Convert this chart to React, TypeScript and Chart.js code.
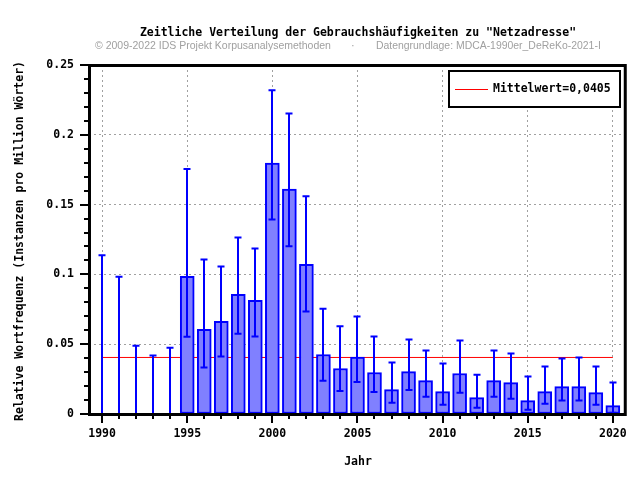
import React, { useEffect, useRef } from "react";
import { Chart, registerables } from "chart.js";

Chart.register(...registerables);

const years = [
  1990, 1991, 1992, 1993, 1994, 1995, 1996, 1997, 1998, 1999, 2000,
  2001, 2002, 2003, 2004, 2005, 2006, 2007, 2008, 2009, 2010,
  2011, 2012, 2013, 2014, 2015, 2016, 2017, 2018, 2019, 2020,
];
const freq = [
  0, 0, 0, 0, 0, 0.0987, 0.0606, 0.0663, 0.0857, 0.0814, 0.1798,
  0.1611, 0.1073, 0.0426, 0.0326, 0.0407, 0.0297, 0.0175, 0.0304, 0.0239, 0.016,
  0.029, 0.0117, 0.0239, 0.0225, 0.0096, 0.016, 0.0196, 0.0196, 0.0153, 0.006,
];
const upper = [
  0.1137, 0.0984, 0.0489, 0.0419, 0.0474, 0.1755, 0.1106, 0.1056, 0.1264, 0.1185, 0.232,
  0.2153, 0.1559, 0.0754, 0.0628, 0.0699, 0.0556, 0.0369, 0.0534, 0.0455, 0.0361,
  0.0527, 0.0282, 0.0455, 0.0433, 0.0268, 0.034, 0.0397, 0.0405, 0.034, 0.0225,
];
const lower = [
  0, 0, 0, 0, 0, 0.0553, 0.0333, 0.0412, 0.0575, 0.0556, 0.1394,
  0.1202, 0.0735, 0.0239, 0.0165, 0.023, 0.0158, 0.0081, 0.0172, 0.0124, 0.0067,
  0.0153, 0.0045, 0.0124, 0.011, 0.0031, 0.0074, 0.0096, 0.0096, 0.0067, 0.0009,
];
const meanValue = 0.0405;
const meanLabel = "Mittelwert=0,0405";

const xTicks = [1990, 1995, 2000, 2005, 2010, 2015, 2020];
const xTickLabels = ["1990", "1995", "2000", "2005", "2010", "2015", "2020"];
const yTicks = [0, 0.05, 0.1, 0.15, 0.2, 0.25];
const yTickLabels = ["0", "0.05", "0.1", "0.15", "0.2", "0.25"];
const yMinorTicks: number[] = [];
for (let i = 0; i <= 25; i++) yMinorTicks.push(i / 100);

const titleText = "Zeitliche Verteilung der Gebrauchshäufigkeiten zu \"Netzadresse\"";
const subLeft = "© 2009-2022 IDS Projekt Korpusanalysemethoden";
const subDot = "·";
const subRight = "Datengrundlage: MDCA-1990er_DeReKo-2021-I";
const yTitle = "Relative Wortfrequenz (Instanzen pro Million Wörter)";
const xTitle = "Jahr";

const MONO = "bold 11.5px 'DejaVu Sans Mono'";

const decorPlugin = {
  id: "decor",
  afterDatasetsDraw(chart: any) {
    const ctx = chart.ctx;
    const xs = chart.scales.x;
    const ys = chart.scales.y;
    ctx.save();
    ctx.strokeStyle = "#0000ff";
    ctx.lineWidth = 2;
    years.forEach((yr, i) => {
      const x = Math.round(xs.getPixelForValue(yr));
      const yt = ys.getPixelForValue(upper[i]);
      const yb = ys.getPixelForValue(lower[i]);
      ctx.beginPath();
      ctx.moveTo(x, yb);
      ctx.lineTo(x, yt);
      ctx.moveTo(x - 3.5, yt);
      ctx.lineTo(x + 3.5, yt);
      ctx.moveTo(x - 3.5, yb);
      ctx.lineTo(x + 3.5, yb);
      ctx.stroke();
    });
    ctx.restore();
  },
  afterDraw(chart: any) {
    const ctx = chart.ctx;
    const xs = chart.scales.x;
    const ys = chart.scales.y;
    const ca = chart.chartArea;
    ctx.save();
    // frame
    ctx.strokeStyle = "#000";
    ctx.lineWidth = 3;
    ctx.strokeRect(ca.left + 0.5, ca.top + 0.5, ca.right - ca.left, ca.bottom - ca.top);
    // y ticks
    ctx.lineWidth = 2;
    yMinorTicks.forEach((v, i) => {
      const y = Math.round(ys.getPixelForValue(v));
      const len = i % 5 === 0 ? 9 : 5;
      ctx.beginPath();
      ctx.moveTo(ca.left, y);
      ctx.lineTo(ca.left - len, y);
      ctx.stroke();
    });
    // x ticks
    years.forEach((yr) => {
      const x = Math.round(xs.getPixelForValue(yr));
      const len = yr % 5 === 0 ? 9 : 5;
      ctx.beginPath();
      ctx.moveTo(x, ca.bottom);
      ctx.lineTo(x, ca.bottom + len);
      ctx.stroke();
    });
    // legend
    ctx.fillStyle = "#fff";
    ctx.fillRect(449, 71, 171, 36);
    ctx.strokeStyle = "#000";
    ctx.lineWidth = 2;
    ctx.strokeRect(449, 71, 171, 36);
    ctx.strokeStyle = "#ff0000";
    ctx.lineWidth = 1;
    ctx.beginPath();
    ctx.moveTo(455, 89.5);
    ctx.lineTo(488, 89.5);
    ctx.stroke();
    ctx.fillStyle = "#000";
    ctx.font = MONO;
    ctx.textAlign = "left";
    ctx.textBaseline = "middle";
    ctx.fillText(meanLabel, 493, 89);
    // title
    ctx.textAlign = "center";
    ctx.fillText(titleText, 358, 33);
    ctx.fillText(xTitle, 358, 462);
    ctx.save();
    ctx.translate(20, 241);
    ctx.rotate(-Math.PI / 2);
    ctx.fillText(yTitle, 0, 0);
    ctx.restore();
    // subtitle
    ctx.fillStyle = "#a0a0a0";
    ctx.textAlign = "left";
    ctx.font = "11px 'Liberation Sans'";
    const wL = ctx.measureText(subLeft).width;
    const sizeL = (11 * 236) / wL;
    ctx.font = `${sizeL}px 'Liberation Sans'`;
    ctx.fillText(subLeft, 95, 46);
    ctx.font = "11px 'Liberation Sans'";
    ctx.fillText(subDot, 351, 46);
    const wR = ctx.measureText(subRight).width;
    const sizeR = (11 * 225) / wR;
    ctx.font = `${sizeR}px 'Liberation Sans'`;
    ctx.fillText(subRight, 376, 46);
    ctx.restore();
  },
};

export default function App() {
  const ref = useRef<HTMLCanvasElement | null>(null);
  useEffect(() => {
    if (!ref.current) return;
    const chart = new Chart(ref.current, {
      type: "bar",
      data: {
        datasets: [
          {
            type: "bar",
            data: years.map((yr, i) => ({ x: yr, y: freq[i] })),
            backgroundColor: "#8080ff",
            borderColor: "#0000ff",
            borderWidth: 2,
            borderSkipped: false,
            barThickness: 14,
            order: 1,
          } as any,
          {
            type: "line",
            data: [
              { x: years[0], y: meanValue },
              { x: years[years.length - 1], y: meanValue },
            ],
            borderColor: "#ff0000",
            borderWidth: 1,
            pointRadius: 0,
            fill: false,
            order: 2,
          } as any,
        ],
      },
      options: {
        responsive: false,
        animation: false,
        layout: { padding: { top: 65, right: 14, left: 0, bottom: 0 } },
        plugins: {
          legend: { display: false },
          tooltip: { enabled: false },
          title: { display: false },
        },
        scales: {
          x: {
            type: "linear",
            min: 1989.23,
            max: 2020.7,
            offset: false,
            afterFit: (s: any) => {
              s.height = 66;
            },
            afterBuildTicks: (s: any) => {
              s.ticks = xTicks.map((v) => ({ value: v }));
            },
            ticks: {
              callback: (_v: any, i: number) => xTickLabels[i],
              font: { family: "'DejaVu Sans Mono'", size: 11.5, weight: "bold" },
              color: "#000",
              padding: 13,
              maxRotation: 0,
              autoSkip: false,
            },
            grid: {
              color: "#a0a0a0",
              lineWidth: 1,
              drawTicks: false,
              offset: false,
            },
            border: { display: false, dash: [2, 3] },
          },
          y: {
            type: "linear",
            min: 0,
            max: 0.25,
            afterFit: (s: any) => {
              s.width = 89;
            },
            afterBuildTicks: (s: any) => {
              s.ticks = yTicks.map((v) => ({ value: v }));
            },
            ticks: {
              callback: (_v: any, i: number) => yTickLabels[i],
              font: { family: "'DejaVu Sans Mono'", size: 11.5, weight: "bold" },
              color: "#000",
              padding: 15,
              autoSkip: false,
            },
            grid: {
              color: "#a0a0a0",
              lineWidth: 1,
              drawTicks: false,
            },
            border: { display: false, dash: [2, 3] },
          },
        },
      },
      plugins: [decorPlugin],
    });
    return () => chart.destroy();
  }, []);
  return (
    <div style={{ position: "absolute", left: 0, top: 0, width: 640, height: 480, background: "#fff" }}>
      <canvas ref={ref} width={640} height={480} />
    </div>
  );
}
